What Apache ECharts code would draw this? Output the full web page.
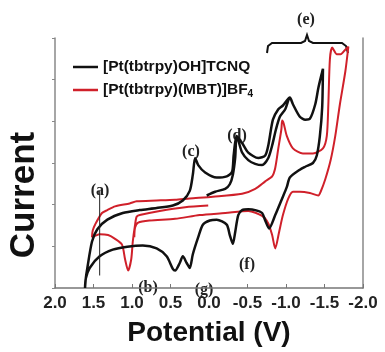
<!DOCTYPE html>
<html>
<head>
<meta charset="utf-8">
<script src="https://cdn.jsdelivr.net/npm/echarts@6/dist/echarts.min.js"></script>
<style>
  html, body { margin: 0; padding: 0; background: #fff; }
  #chart { width: 385px; height: 352px; }
</style>
</head>
<body>
<div id="chart"></div>
<script>
// potential axis labels (V), reversed axis
const potentialTicks = [2.0, 1.5, 1.0, 0.5, 0.0, -0.5, -1.0, -1.5, -2.0]

const tcnqName = '[Pt(tbtrpy)OH]TCNQ'
const mbtName = '[Pt(tbtrpy)(MBT)]BF4'

// [Pt(tbtrpy)OH]TCNQ - first sweep, 0 V towards -1.5 V  ([V, current])
const tcnqScan1 = [
  [0.03, 2.22], [-0.08, 2.31], [-0.21, 2.38], [-0.27, 2.49], [-0.31, 2.72],
  [-0.34, 3.12], [-0.36, 3.65], [-0.43, 3.25], [-0.51, 3.07], [-0.60, 2.98],
  [-0.69, 2.95], [-0.77, 3.12], [-0.82, 3.42], [-0.87, 3.81], [-0.92, 4.11],
  [-0.99, 4.29], [-1.05, 4.57], [-1.09, 4.41], [-1.18, 4.11], [-1.25, 4.04],
  [-1.31, 4.06], [-1.38, 4.41], [-1.42, 4.80], [-1.47, 5.19], [-1.48, 5.26]
]
// return sweep, -1.5 V back to +1.6 V
const tcnqReturn = [
  [-1.47, 4.34], [-1.44, 3.65], [-1.40, 3.18], [-1.35, 3.00], [-1.25, 2.91],
  [-1.18, 2.84], [-1.05, 2.65], [-1.01, 2.42], [-0.95, 2.15], [-0.86, 1.75],
  [-0.78, 1.43], [-0.73, 1.62], [-0.69, 1.80], [-0.60, 1.87], [-0.51, 1.89],
  [-0.43, 1.87], [-0.38, 1.75], [-0.34, 1.34], [-0.31, 1.06], [-0.27, 1.27],
  [-0.23, 1.52], [-0.10, 1.64], [-0.01, 1.62], [0.08, 1.52], [0.14, 1.22],
  [0.21, 0.81], [0.25, 0.48], [0.29, 0.60], [0.34, 0.76], [0.38, 0.60],
  [0.44, 0.42], [0.47, 0.46], [0.55, 0.76], [0.68, 0.95], [0.86, 1.02],
  [1.06, 0.99], [1.25, 0.92], [1.42, 0.76], [1.55, 0.48], [1.60, 0.23], [1.61, 0.0]
]
// second sweep, +1.6 V to -1.5 V
const tcnqScan2 = [
  [1.60, 0.23], [1.58, 0.48], [1.52, 1.11], [1.45, 1.41], [1.32, 1.64],
  [1.12, 1.80], [0.90, 1.87], [0.68, 1.92], [0.47, 1.98], [0.34, 2.10],
  [0.25, 2.33], [0.21, 2.72], [0.18, 3.12], [0.14, 2.95], [0.05, 2.77],
  [-0.10, 2.65], [-0.23, 2.68], [-0.30, 2.79], [-0.32, 3.18], [-0.36, 3.65],
  [-0.43, 3.48], [-0.51, 3.25], [-0.64, 3.12], [-0.73, 3.18], [-0.77, 3.42],
  [-0.83, 4.04], [-0.90, 4.29], [-0.96, 4.38], [-1.05, 4.57], [-1.09, 4.41],
  [-1.18, 4.11], [-1.25, 4.04], [-1.31, 4.06], [-1.38, 4.41], [-1.42, 4.80],
  [-1.47, 5.19], [-1.48, 5.26]
]

// [Pt(tbtrpy)(MBT)]BF4 - 0 V towards +1.5 V
const mbtForward = [
  [0.01, 1.98], [0.31, 1.94], [0.64, 1.85], [0.90, 1.75], [0.94, 1.71],
  [0.96, 1.52], [0.99, 1.11], [1.01, 0.69], [1.05, 0.42], [1.09, 0.69],
  [1.13, 1.04], [1.22, 1.18], [1.31, 1.27], [1.42, 1.29], [1.48, 1.25], [1.52, 1.22]
]
// +1.5 V to -1.8 V
const mbtReduction = [
  [1.51, 1.38], [1.48, 1.52], [1.39, 1.80], [1.32, 1.87], [1.22, 1.96],
  [1.03, 2.03], [0.94, 2.08], [0.68, 2.10], [0.44, 2.12], [0.25, 2.15],
  [-0.05, 2.19], [-0.43, 2.26], [-0.60, 2.38], [-0.73, 2.56], [-0.82, 2.68],
  [-0.86, 2.88], [-0.90, 3.35], [-0.94, 3.81], [-0.95, 4.02], [-0.97, 3.95],
  [-1.01, 3.65], [-1.09, 3.35], [-1.22, 3.23], [-1.35, 3.23], [-1.48, 3.35],
  [-1.53, 3.65], [-1.55, 4.41], [-1.57, 5.49], [-1.60, 5.77], [-1.66, 5.61],
  [-1.71, 5.61], [-1.77, 5.72], [-1.81, 5.79]
]
// -1.8 V back to +1.0 V
const mbtReturn = [
  [-1.77, 5.19], [-1.70, 4.41], [-1.64, 3.65], [-1.58, 3.07], [-1.51, 2.61],
  [-1.45, 2.31], [-1.42, 2.22], [-1.31, 2.28], [-1.18, 2.31], [-1.09, 2.31],
  [-1.03, 2.15], [-0.96, 1.75], [-0.91, 1.34], [-0.86, 0.95], [-0.82, 1.27],
  [-0.77, 1.55], [-0.69, 1.73], [-0.51, 1.85], [-0.21, 1.80], [0.12, 1.75],
  [0.44, 1.66], [0.77, 1.62], [0.92, 1.57], [0.96, 1.45], [0.97, 1.22]
]

// marker line for (a)
const markerA = [[1.42, 2.33], [1.42, 0.30]]

const chart = echarts.init(document.getElementById('chart'))

const sans = 'Liberation Sans, Arial, sans-serif'
const serif = 'Liberation Serif, Times New Roman, serif'

function peakLabel(text, x, y) {
  return {
    type: 'text', x: x, y: y,
    style: { text: text, font: 'bold 16px ' + serif, fill: '#222', align: 'center', verticalAlign: 'middle' }
  }
}

const option = {
  animation: false,
  grid: { left: 55, right: 22, top: 38, bottom: 54 },
  legend: [
    {
      data: [tcnqName], left: 68, top: 54, icon: 'rect', itemWidth: 25, itemHeight: 2.5,
      selectedMode: false,
      textStyle: { fontSize: 15.5, fontWeight: 'bold', fontFamily: sans, color: '#111' }
    },
    {
      data: [mbtName], left: 68, top: 77, icon: 'rect', itemWidth: 25, itemHeight: 2.5,
      selectedMode: false,
      formatter: () => '[Pt(tbtrpy)(MBT)]BF{sub|4}',
      textStyle: {
        fontSize: 15.5, fontWeight: 'bold', fontFamily: sans, color: '#111',
        rich: { sub: { fontSize: 10, fontWeight: 'bold', fontFamily: sans, color: '#111', verticalAlign: 'bottom', padding: [8, 0, 0, 0] } }
      }
    }
  ],
  xAxis: {
    type: 'value', inverse: true, min: -2, max: 2, interval: 0.5,
    name: 'Potential (V)', nameLocation: 'middle', nameGap: 31,
    nameTextStyle: { fontSize: 28, fontWeight: 'bold', fontFamily: sans, color: '#111' },
    axisLine: { onZero: false, lineStyle: { color: '#777', width: 1.5 } },
    axisTick: { inside: true, length: 4, lineStyle: { color: '#777' } },
    splitLine: { show: false },
    axisLabel: {
      margin: 7, fontSize: 17, fontWeight: 'bold', fontFamily: sans, color: '#222',
      showMinLabel: true, showMaxLabel: true,
      formatter: v => potentialTicks.includes(v) ? v.toFixed(1) : ''
    }
  },
  yAxis: [
    {
      type: 'value', min: 0, max: 6, interval: 1,
      axisLine: { show: true, onZero: false, lineStyle: { color: '#888', width: 1.5 } },
      axisTick: { show: true, length: 3, lineStyle: { color: '#888' } },
      axisLabel: { show: false },
      splitLine: { show: false }
    },
    {
      type: 'value', min: 0, max: 6, position: 'right',
      axisLine: { show: true, onZero: false, lineStyle: { color: '#888', width: 1.5 } },
      axisTick: { show: false }, axisLabel: { show: false }, splitLine: { show: false }
    }
  ],
  series: [
    {
      name: mbtName, type: 'line', showSymbol: false, smooth: 0.25,
      color: '#d0202a', lineStyle: { width: 2, color: '#d0202a' },
      data: mbtForward.concat(mbtReduction, mbtReturn)
    },
    {
      name: tcnqName, type: 'line', showSymbol: false, smooth: 0.25,
      color: '#111', lineStyle: { width: 2.5, color: '#111' },
      data: tcnqScan1.concat(tcnqReturn, tcnqScan2)
    },
    {
      name: 'a', type: 'line', showSymbol: false,
      lineStyle: { width: 1, color: '#222' }, data: markerA
    }
  ],
  graphic: [
    {
      type: 'text', x: 24, y: 195, rotation: Math.PI / 2,
      style: { text: 'Current', font: 'bold 35px ' + sans, fill: '#111', align: 'center', verticalAlign: 'middle' }
    },
    peakLabel('(a)', 100, 191),
    peakLabel('(b)', 148, 288),
    peakLabel('(c)', 191, 152),
    peakLabel('(d)', 237, 136),
    peakLabel('(e)', 306, 20),
    peakLabel('(f)', 247, 265),
    peakLabel('(g)', 204, 290),
    {
      type: 'polyline',
      shape: { points: [[267, 53], [268, 46], [272, 43], [301, 43], [305, 41], [307, 35], [309, 41], [313, 43], [342, 43], [346, 46], [348, 53]] },
      style: { stroke: '#111', lineWidth: 2, fill: null }
    }
  ]
}

chart.setOption(option)
</script>
</body>
</html>
